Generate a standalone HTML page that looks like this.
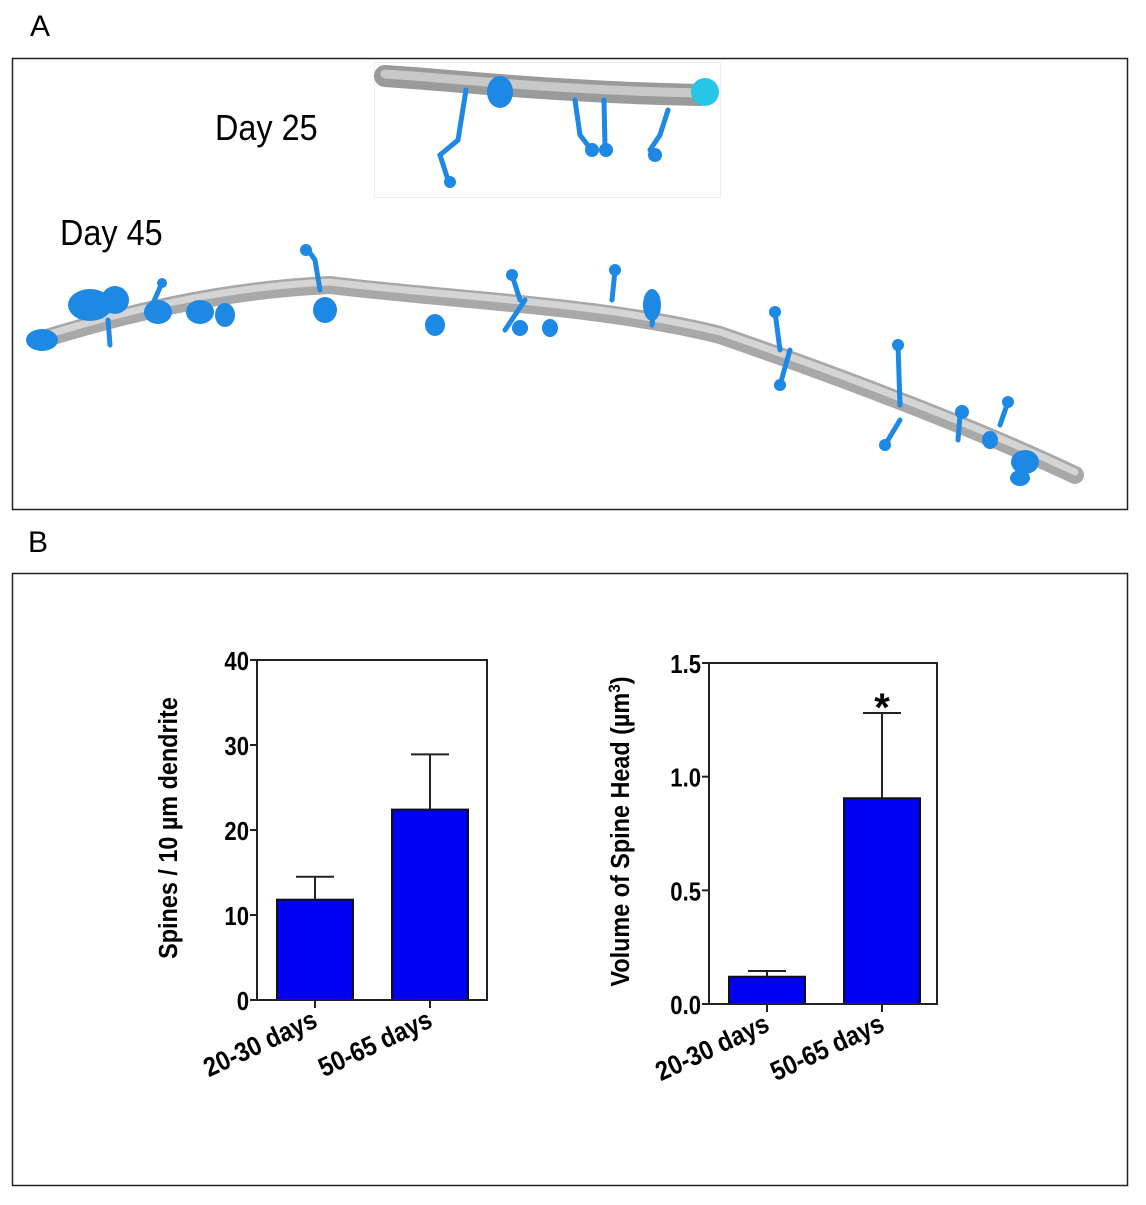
<!DOCTYPE html>
<html><head><meta charset="utf-8"><style>
html,body{margin:0;padding:0;background:#fff;}
body{width:1146px;height:1200px;position:relative;overflow:hidden;font-family:"Liberation Sans",sans-serif;}
</style></head><body>
<svg width="1146" height="1200" viewBox="0 0 1146 1200" xmlns="http://www.w3.org/2000/svg">
<text x="30" y="36" font-size="30" font-family="Liberation Sans">A</text>
<rect x="12.5" y="58.5" width="1115" height="451" fill="#fff" stroke="#222" stroke-width="1.5"/>
<rect x="374.5" y="62.5" width="346" height="135" fill="#fff" stroke="#eee"/>
<text transform="translate(215,140) scale(0.9,1)" font-size="36" font-family="Liberation Sans">Day 25</text>
<text transform="translate(60,245) scale(0.9,1)" font-size="36" font-family="Liberation Sans">Day 45</text>
<g>
<path d="M385,76 C450,80 550,92 700,95" stroke="#9a9a9a" stroke-width="22" fill="none" stroke-linecap="round"/>
<path d="M385,74 C450,78 550,90 700,93" stroke="#c8c8c8" stroke-width="9" fill="none" stroke-linecap="round"/>
<g stroke="#1e88e5" stroke-width="5" fill="none" stroke-linecap="round">
<path d="M466,90 L458,140 L440,155 L448,180"/><path d="M575,100 L580,135 L590,148"/><path d="M604,100 L605,148"/><path d="M668,110 L660,135 L650,150"/>
</g>
<g fill="#1e88e5"><ellipse cx="500" cy="92" rx="13" ry="16"/><circle cx="450" cy="182" r="6"/><circle cx="592" cy="150" r="7"/><circle cx="606" cy="150" r="7"/><circle cx="655" cy="155" r="7"/></g>
<circle cx="705" cy="92" r="14" fill="#29c5e6"/>
</g>
<g>
<path d="M40,340 C120,315 220,290 330,285 C450,300 600,305 720,335 C850,380 980,430 1075,475" stroke="#a8a8a8" stroke-width="18" fill="none" stroke-linecap="round"/>
<path d="M40,337 C120,312 220,287 330,282 C450,297 600,302 720,332 C850,377 980,427 1075,472" stroke="#d4d4d4" stroke-width="7" fill="none" stroke-linecap="round"/>
<g stroke="#1e88e5" stroke-width="5" fill="none" stroke-linecap="round">
<path d="M150,310 L162,283"/><path d="M320,290 L315,260 L308,250"/><path d="M520,300 L512,275"/><path d="M612,300 L615,270"/><path d="M655,300 L652,325"/><path d="M780,350 L775,312"/><path d="M790,350 L780,385"/><path d="M900,405 L898,345"/><path d="M900,420 L885,445"/><path d="M1000,425 L1008,402"/><path d="M960,415 L958,440"/><path d="M525,300 L505,330"/><path d="M108,320 L110,345"/>
</g>
<g fill="#1e88e5">
<ellipse cx="90" cy="305" rx="22" ry="16"/><ellipse cx="115" cy="300" rx="14" ry="14"/><ellipse cx="158" cy="312" rx="14" ry="12"/><ellipse cx="200" cy="312" rx="14" ry="12"/><ellipse cx="225" cy="315" rx="10" ry="12"/><ellipse cx="42" cy="340" rx="16" ry="11"/>
<circle cx="306" cy="250" r="6"/><circle cx="162" cy="283" r="5"/><ellipse cx="325" cy="310" rx="12" ry="13"/><ellipse cx="435" cy="325" rx="10" ry="11"/><circle cx="512" cy="275" r="6"/><circle cx="520" cy="328" r="8"/><ellipse cx="550" cy="328" rx="8" ry="9"/><circle cx="615" cy="270" r="6"/><ellipse cx="652" cy="305" rx="9" ry="16"/><circle cx="775" cy="312" r="6"/><circle cx="780" cy="385" r="6"/><circle cx="898" cy="345" r="6"/><circle cx="885" cy="445" r="6"/><circle cx="1008" cy="402" r="6"/><circle cx="962" cy="412" r="7"/><ellipse cx="1025" cy="462" rx="14" ry="12"/><ellipse cx="990" cy="440" rx="8" ry="9"/><ellipse cx="1020" cy="478" rx="10" ry="8"/>
</g>
</g>
<text x="28" y="552" font-size="30" font-family="Liberation Sans">B</text>
<rect x="12.5" y="573.5" width="1115" height="612" fill="#fff" stroke="#222" stroke-width="1.5"/>
<g id="chart1"></g>
<g id="chart2"></g>
</svg>
<script>
const categories = ["20-30 days", "50-65 days"];
const densityValues = [11.8, 22.4];
const densityErrors = [2.7, 6.5];
const densityTicks = ["0", "10", "20", "30", "40"];
const volumeValues = [0.12, 0.905];
const volumeErrors = [0.025, 0.375];
const volumeTicks = ["0.0", "0.5", "1.0", "1.5"];
const volumeSig = ["", "*"];

const NS = "http://www.w3.org/2000/svg";
function mk(tag, attrs, parent) {
  const e = document.createElementNS(NS, tag);
  for (const k in attrs) e.setAttribute(k, attrs[k]);
  parent.appendChild(e);
  return e;
}
function drawChart(g, cfg) {
  const {x0, x1, yTop, yBot, max, ticks, values, errors, sig} = cfg;
  const y = v => yBot - (v / max) * (yBot - yTop);
  const bw = 76;
  const cx = i => x0 + 58 + i * 115;
  ticks.forEach(t => {
    const yy = y(parseFloat(t));
    const tl = mk("line", {x1: x0 - 7, x2: x0, y1: yy, y2: yy, stroke: "#222", "stroke-width": 2}, g);
    
    
    const tx = mk("text", {x: 0, y: 0, "text-anchor": "end", "font-size": 26, "font-weight": "bold", "font-family": "Liberation Sans", transform: `translate(${x0 - 8},${yy + 10}) scale(0.85,1)`}, g);
    tx.textContent = t;
    
    
  });
  values.forEach((v, i) => {
    const c = cx(i);
    const b = mk("rect", {x: c - bw / 2, y: y(v), width: bw, height: yBot - y(v), fill: "#0000f5", stroke: "#111", "stroke-width": 2}, g);
    
    
    const e = mk("path", {d: `M${c},${y(v)} V${y(v + errors[i])} M${c - 19},${y(v + errors[i])} H${c + 19}`, stroke: "#222", "stroke-width": 2, fill: "none"}, g);
    
    
    const xt = mk("line", {x1: c, x2: c, y1: yBot, y2: yBot + 8, stroke: "#222", "stroke-width": 2}, g);
    
    
    const lab = mk("text", {x: 0, y: 0, "text-anchor": "end", "font-size": 27, "font-weight": "bold", "font-family": "Liberation Sans", transform: `translate(${c + 4},${yBot + 26}) rotate(-25) scale(0.88,1)`}, g);
    lab.textContent = categories[i];
    
    
    if (sig && sig[i]) {
      const s = mk("text", {x: c, y: y(v + errors[i]) + 8, "text-anchor": "middle", "font-size": 40, "font-weight": "bold", "font-family": "Liberation Sans"}, g);
      s.textContent = sig[i];
      
      
    }
  });
  const ax = mk("path", {d: `M${x0},${yTop} V${yBot} H${x1} V${yTop} H${x0}`, stroke: "#222", "stroke-width": 2, fill: "none"}, g);
  
  
  const tt = mk("text", {x: 0, y: 0, "text-anchor": "middle", "font-size": 26, "font-weight": "bold", "font-family": "Liberation Sans", transform: `translate(${x0 - 80},${(yTop + yBot) / 2 - 2}) rotate(-90) scale(0.9,1)`}, g);
  
  
  return tt;
}
const t1 = drawChart(document.getElementById("chart1"), {x0: 257, x1: 487, yTop: 660, yBot: 1000, max: 40, ticks: densityTicks, values: densityValues, errors: densityErrors});
t1.textContent = "Spines / 10 µm dendrite";
const t2 = drawChart(document.getElementById("chart2"), {x0: 709, x1: 937, yTop: 663, yBot: 1004, max: 1.5, ticks: volumeTicks, values: volumeValues, errors: volumeErrors, sig: volumeSig});
t2.textContent = "Volume of Spine Head (µm";
const sup = document.createElementNS(NS, "tspan");
sup.setAttribute("dy", "-9"); sup.setAttribute("font-size", "17");
sup.textContent = "3";
t2.appendChild(sup);
const cl = document.createElementNS(NS, "tspan");
cl.setAttribute("dy", "9");
cl.textContent = ")";
t2.appendChild(cl);
</script>
</body></html>
